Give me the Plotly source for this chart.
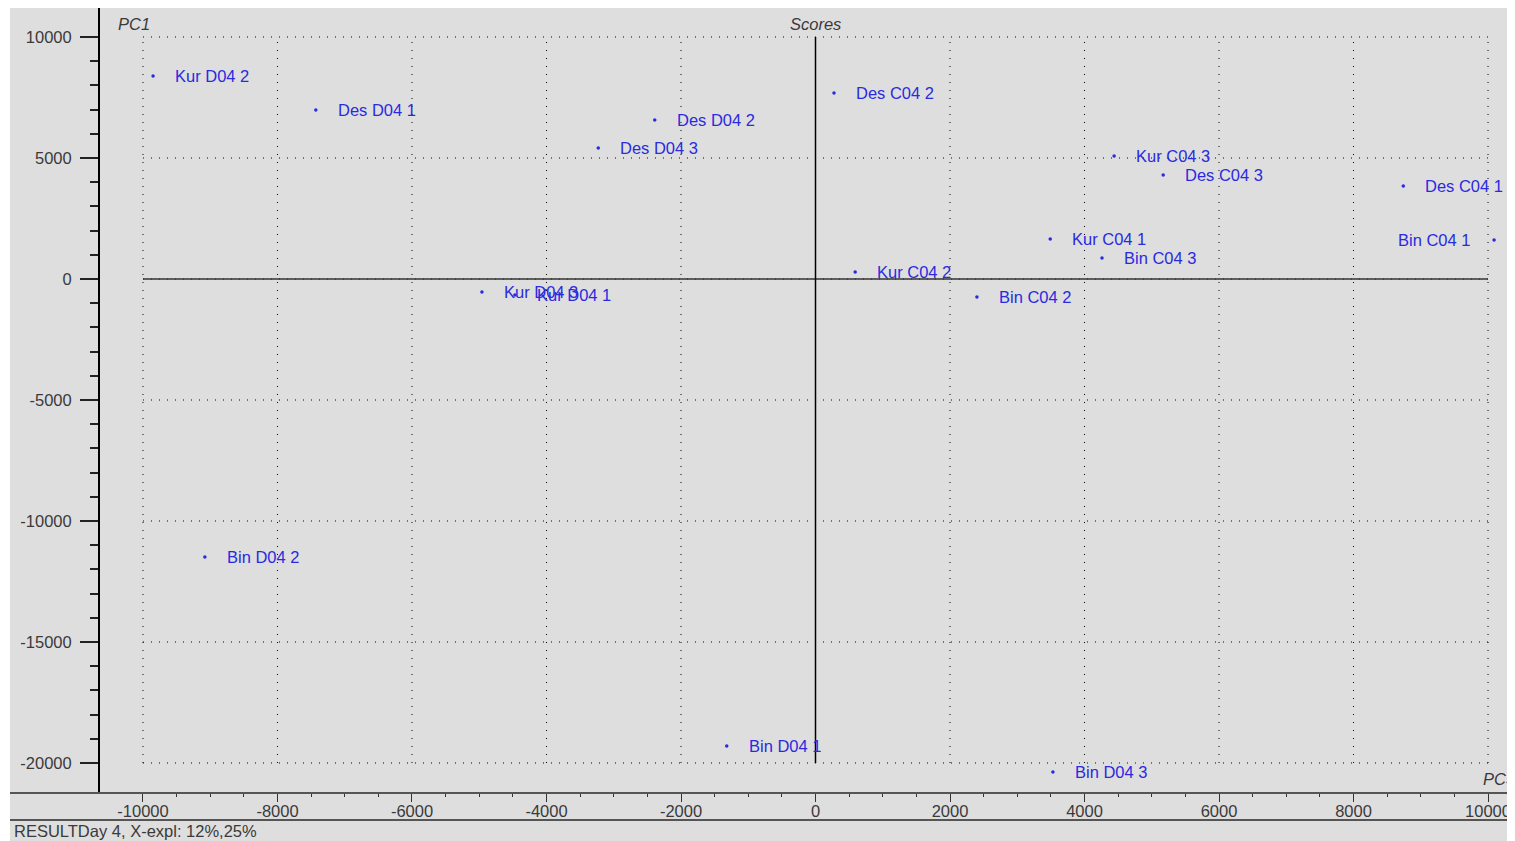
import plotly.graph_objects as go

# scores (PC3 on x, PC1 on y)
sample_names = ["Kur D04 2", "Des D04 1", "Des D04 2", "Des D04 3", "Des C04 2",
                "Kur C04 3", "Des C04 3", "Des C04 1", "Bin C04 1", "Kur C04 1",
                "Bin C04 3", "Kur C04 2", "Bin C04 2", "Kur D04 3", "Kur D04 1",
                "Bin D04 2", "Bin D04 1", "Bin D04 3"]
pc3_scores = [-9850, -7430, -2390, -3230, 275,
              4440, 5170, 8740, 10090, 3490,
              4260, 590, 2400, -4960, -4470,
              -9080, -1320, 3530]
pc1_scores = [8390, 6980, 6570, 5410, 7690,
              5080, 4300, 3840, 1610, 1650,
              870, 290, -740, -540, -660,
              -11490, -19300, -20370]

x_ticks = [-10000, -8000, -6000, -4000, -2000, 0, 2000, 4000, 6000, 8000, 10000]
x_ticktext = ["-10000", "-8000", "-6000", "-4000", "-2000", "0", "2000", "4000", "6000", "8000", "10000"]
y_ticks = [10000, 5000, 0, -5000, -10000, -15000, -20000]
y_ticktext = ["10000", "5000", "0", "-5000", "-10000", "-15000", "-20000"]
x_minor = [v for v in range(-10000, 10001, 500) if v % 2000 != 0]
y_minor = [v for v in range(-20000, 10001, 1000) if v % 5000 != 0]

left_labels = {"Bin C04 1"}

# the page puts the figure 8px in from the top-left corner
OFF = 8
W, H = 1515 - OFF, 841 - OFF
ML, MT, MB = 100 - OFF, 0, 48
PW, PH = W - ML, H - MT - MB
BG = "#dedede"
BLUE = "#2a2ae0"
FONT = "Liberation Sans, Arial, sans-serif"
FS = 16.5
GREY_TXT = "#3a3a3a"


# page pixel -> paper fraction
def px_x(p):
    return (p - OFF - ML) / PW


def px_y(p):
    return (H - MB - (p - OFF)) / PH


fig = go.Figure()

fig.add_trace(go.Scatter(
    x=pc3_scores, y=pc1_scores, mode="markers",
    marker=dict(color=BLUE, size=3.5), hoverinfo="text", text=sample_names,
    showlegend=False,
))

# labels next to each point
for name, xv, yv in zip(sample_names, pc3_scores, pc1_scores):
    left = name in left_labels
    fig.add_annotation(
        x=xv, y=yv, xref="x", yref="y", text=name, showarrow=False,
        xanchor="right" if left else "left", yanchor="middle",
        xshift=-22 if left else 20,
        font=dict(family=FONT, size=FS, color=BLUE),
    )

shapes = []
# dotted grid, limited to the tick span
for xv in x_ticks:
    shapes.append(dict(type="line", xref="x", yref="y", x0=xv, x1=xv,
                       y0=y_ticks[-1], y1=y_ticks[0],
                       line=dict(color="black", width=1, dash="1px,7px"), layer="below"))
for yv in y_ticks:
    shapes.append(dict(type="line", xref="x", yref="y", x0=x_ticks[0], x1=x_ticks[-1],
                       y0=yv, y1=yv,
                       line=dict(color="black", width=1, dash="1px,7px"), layer="below"))
# cross through the origin
shapes.append(dict(type="line", xref="x", yref="y", x0=x_ticks[0], x1=x_ticks[-1], y0=0, y1=0,
                   line=dict(color="#333333", width=1.5)))
shapes.append(dict(type="line", xref="x", yref="y", x0=0, x1=0, y0=y_ticks[-1], y1=y_ticks[0],
                   line=dict(color="black", width=1.5)))
# bottom axis line and status bar line (run past the y axis)
shapes.append(dict(type="line", xref="paper", yref="paper", x0=px_x(10), x1=1, y0=0, y1=0,
                   line=dict(color="#555555", width=2)))
shapes.append(dict(type="line", xref="paper", yref="paper", x0=px_x(10), x1=1,
                   y0=px_y(820), y1=px_y(820), line=dict(color="#555555", width=2)))
# white strip at the left edge
shapes.append(dict(type="rect", xref="paper", yref="paper", x0=px_x(OFF), x1=px_x(10),
                   y0=px_y(841), y1=px_y(OFF), fillcolor="white", line=dict(width=0),
                   layer="above"))

fig.update_layout(
    width=W, height=H,
    margin=dict(l=ML, r=0, t=MT, b=MB, pad=0),
    paper_bgcolor=BG, plot_bgcolor=BG,
    font=dict(family=FONT, size=FS, color=GREY_TXT),
    shapes=shapes,
    xaxis=dict(
        range=[-10639, 10401], tickmode="array", tickvals=x_ticks, ticktext=x_ticktext,
        ticks="outside", ticklen=8, tickwidth=1, tickcolor="#333333",
        ticklabelstandoff=-5,
        minor=dict(tickmode="array", tickvals=x_minor, ticks="outside", ticklen=3,
                   tickwidth=1, tickcolor="#333333"),
        showgrid=False, zeroline=False, showline=False,
        tickfont=dict(family=FONT, size=FS, color=GREY_TXT),
    ),
    yaxis=dict(
        range=[-21240, 11198], tickmode="array", tickvals=y_ticks, ticktext=y_ticktext,
        ticks="outside", ticklen=18, tickwidth=1.5, tickcolor="#222222",
        ticklabelstandoff=5,
        minor=dict(tickmode="array", tickvals=y_minor, ticks="outside", ticklen=8,
                   tickwidth=1.5, tickcolor="#222222"),
        showgrid=False, zeroline=False, showline=True, linecolor="black", linewidth=2,
        tickfont=dict(family=FONT, size=FS, color=GREY_TXT),
    ),
)

italic = dict(family=FONT, size=FS, color=GREY_TXT, style="italic")
fig.add_annotation(x=px_x(116), y=px_y(24), xref="paper", yref="paper", text="PC1",
                   showarrow=False, xanchor="left", yanchor="middle", font=italic)
fig.add_annotation(x=0, y=px_y(24), xref="x", yref="paper", text="Scores",
                   showarrow=False, xanchor="center", yanchor="middle", font=italic)
fig.add_annotation(x=px_x(1481), y=px_y(779), xref="paper", yref="paper", text="PC3",
                   showarrow=False, xanchor="left", yanchor="middle", font=italic)
fig.add_annotation(x=px_x(12), y=px_y(831), xref="paper", yref="paper",
                   text="RESULTDay 4, X-expl: 12%,25%",
                   showarrow=False, xanchor="left", yanchor="middle",
                   font=dict(family=FONT, size=FS, color=GREY_TXT))

fig.write_html("out.html")
